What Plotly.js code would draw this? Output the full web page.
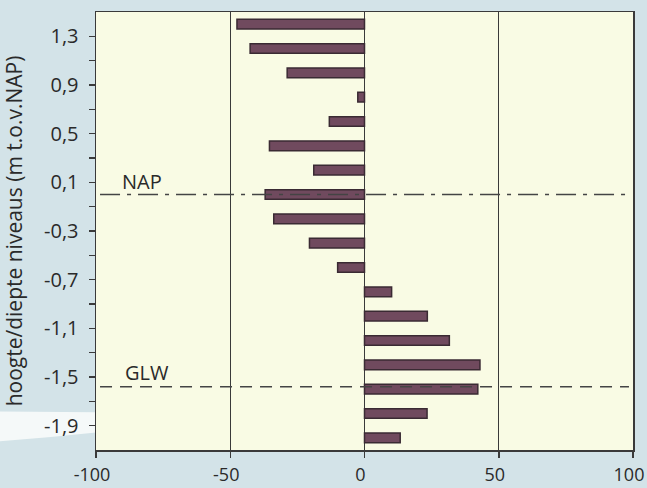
<!DOCTYPE html>
<html>
<head>
<meta charset="utf-8">
<script src="https://cdn.plot.ly/plotly-3.0.1.min.js"></script>
<style>
  html, body { margin: 0; padding: 0; background: #d3e3e8; }
  #chart { width: 647px; height: 488px; }
</style>
</head>
<body>
<div id="chart"></div>
<script>
// Depth levels (m t.o.v. NAP) – centre of each bar
const levels = [1.4, 1.2, 1.0, 0.8, 0.6, 0.4, 0.2, 0.0, -0.2, -0.4, -0.6, -0.8, -1.0, -1.2, -1.4, -1.6, -1.8, -2.0];
// Values per level
const values = [-47.5, -42.6, -28.8, -2.5, -13.1, -35.4, -18.9, -37.0, -33.8, -20.5, -10.0, 10.1, 23.4, 31.6, 43.0, 42.2, 23.3, 13.3];
// Y tick positions and labels
const yTickVals = [1.3, 1.1, 0.9, 0.7, 0.5, 0.3, 0.1, -0.1, -0.3, -0.5, -0.7, -0.9, -1.1, -1.3, -1.5, -1.7, -1.9];
const yTickText = ["1,3", "", "0,9", "", "0,5", "", "0,1", "", "-0,3", "", "-0,7", "", "-1,1", "", "-1,5", "", "-1,9"];
const xTickVals = [-100, -50, 0, 50, 100];
// Reference levels
const napLevel = 0.0;
const glwLevel = -1.58;

const FONT = '"Open Sans", "Noto Sans", sans-serif';

const trace = {
  type: 'bar',
  orientation: 'h',
  y: levels,
  x: values,
  width: levels.map(() => 0.08),
  marker: { color: '#704a5e', line: { color: '#3a2a33', width: 1.5 } },
  hoverinfo: 'skip'
};

const layout = {
  width: 647,
  height: 488,
  margin: { l: 96, r: 14, t: 12, b: 38 },
  paper_bgcolor: '#d3e3e8',
  plot_bgcolor: '#f9fbe4',
  showlegend: false,
  font: { family: FONT, color: '#2a2a2a', size: 19 },
  xaxis: {
    range: [-100, 100],
    tickvals: xTickVals,
    ticktext: xTickVals.map(String),
    ticks: 'outside',
    ticklen: 6,
    tickwidth: 1.5,
    tickcolor: '#3a3a3a',
    ticklabelstandoff: 2,
    ticklabelshift: -4,
    ticklabeloverflow: 'allow',
    showline: true,
    linecolor: '#3a3a3a',
    linewidth: 1.5,
    mirror: true,
    showgrid: true,
    gridcolor: '#3a3a3a',
    gridwidth: 1.2,
    zeroline: false,
    tickfont: { size: 18, family: FONT, color: '#2a2a2a' }
  },
  yaxis: {
    range: [-2.1, 1.5],
    tickvals: yTickVals,
    ticktext: yTickText,
    ticks: 'outside',
    ticklen: 6,
    tickwidth: 1.5,
    tickcolor: '#3a3a3a',
    ticklabelstandoff: 6,
    showline: true,
    linecolor: '#3a3a3a',
    linewidth: 1.5,
    mirror: true,
    showgrid: false,
    zeroline: false,
    tickfont: { size: 20, family: FONT, color: '#2a2a2a' },
    title: { text: 'hoogte/diepte niveaus (m t.o.v.NAP)', font: { size: 21, family: FONT, color: '#2a2a2a' }, standoff: 16 }
  },
  shapes: [
    {
      type: 'path', xref: 'paper', yref: 'paper', layer: 'below',
      path: 'M -0.18 0.088 L 0 0.086 L 0 0.040 Q -0.09 0.028 -0.18 0.020 Z',
      fillcolor: '#f5f9f9', line: { width: 0 }
    },
    {
      type: 'line', xref: 'x', yref: 'y', x0: -98.5, x1: 98.5, y0: napLevel, y1: napLevel,
      line: { color: '#444444', width: 1.5, dash: '20px,7px,4px,7px' }
    },
    {
      type: 'line', xref: 'x', yref: 'y', x0: -98.5, x1: 98.5, y0: glwLevel, y1: glwLevel,
      line: { color: '#444444', width: 1.5, dash: '12px,8px' }
    }
  ],
  annotations: [
    { x: -83, y: 0.107, xref: 'x', yref: 'y', text: 'NAP', showarrow: false, font: { size: 20, family: FONT, color: '#2a2a2a' } },
    { x: -81, y: -1.465, xref: 'x', yref: 'y', text: 'GLW', showarrow: false, font: { size: 20, family: FONT, color: '#2a2a2a' } }
  ],
  bargap: 0
};

Plotly.newPlot('chart', [trace], layout, { displayModeBar: false, staticPlot: true });
</script>
</body>
</html>
